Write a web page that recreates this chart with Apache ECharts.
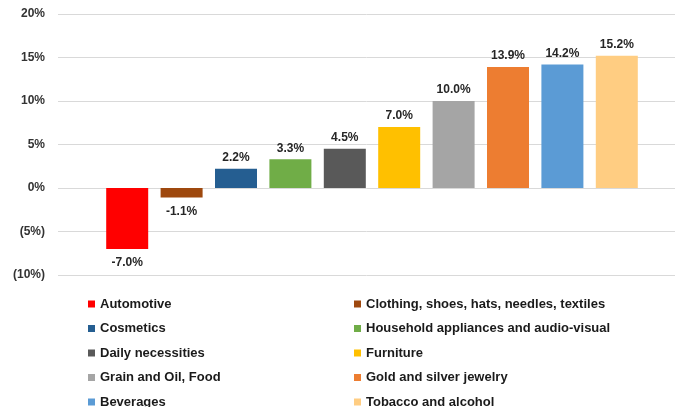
<!DOCTYPE html>
<html>
<head>
<meta charset="utf-8">
<script src="https://cdn.jsdelivr.net/npm/echarts@6/dist/echarts.min.js"></script>
<style>html,body{margin:0;padding:0;background:#fff;}#c{width:675px;height:407px;}</style>
</head>
<body>
<div id="c"></div>
<script>
var categories = ['Automotive','Clothing, shoes, hats, needles, textiles','Cosmetics','Household appliances and audio-visual','Daily necessities','Furniture','Grain and Oil, Food','Gold and silver jewelry','Beverages','Tobacco and alcohol'];
var values = [-7.0, -1.1, 2.2, 3.3, 4.5, 7.0, 10.0, 13.9, 14.2, 15.2];
var colors = ['#FF0000','#9E480E','#255E91','#70AD47','#595959','#FFC000','#A5A5A5','#ED7D31','#5B9BD5','#FFCD82'];
var yTicks = [-10, -5, 0, 5, 10, 15, 20];

function fmtTick(v){ return v < 0 ? '(' + Math.abs(v) + '%)' : v + '%'; }

var series = categories.map(function(name, i){
  var d = categories.map(function(_, j){
    if (j !== i) return null;
    return {value: values[i], label: {position: values[i] < 0 ? 'bottom' : 'top', distance: values[i] < 0 ? 8 : 5}};
  });
  return {
    name: name, type: 'bar', stack: 'all', xAxisIndex: 1, yAxisIndex: 1,
    barWidth: 42, itemStyle: {color: colors[i]},
    label: {show: true, fontFamily: 'Liberation Sans, Arial', fontWeight: 'bold', fontSize: 12, color: '#262626',
      formatter: function(p){ return p.value.toFixed(1) + '%'; }},
    data: d
  };
});
series.push({type: 'bar', xAxisIndex: 0, yAxisIndex: 0, data: [], silent: true});

var legendLeft = [], legendRight = [];
categories.forEach(function(c, i){ (i % 2 === 0 ? legendLeft : legendRight).push(c); });
var legendCommon = {
  orient: 'vertical', itemWidth: 7, itemHeight: 7, itemGap: 10.5, icon: 'rect', top: 297, height: 130, padding: 0,
  textStyle: {fontFamily: 'Liberation Sans, Arial', fontWeight: 'bold', fontSize: 13, color: '#1a1a1a', lineHeight: 14},
  selectedMode: false
};

var chart = echarts.init(document.getElementById('c'));
chart.setOption({
  animation: false,
  grid: [
    {left: 58, right: 0, top: 14, bottom: 132, containLabel: false},
    {left: 100, right: 31, top: 14, bottom: 132, containLabel: false}
  ],
  xAxis: [
    {gridIndex: 0, type: 'category', data: [''], show: false},
    {gridIndex: 1, type: 'category', data: categories, show: false}
  ],
  yAxis: [
    {gridIndex: 0, type: 'value', min: -10, max: 20, interval: 5,
      axisLine: {show: false}, axisTick: {show: false},
      splitLine: {lineStyle: {color: '#d9d9d9', width: 1}},
      axisLabel: {margin: 13, fontFamily: 'Liberation Sans, Arial', fontWeight: 'bold', fontSize: 12, color: '#333',
        formatter: fmtTick}},
    {gridIndex: 1, type: 'value', min: -10, max: 20, interval: 5, show: false, splitLine: {show: false}}
  ],
  legend: [
    Object.assign({left: 88, data: legendLeft}, legendCommon),
    Object.assign({left: 354, data: legendRight}, legendCommon)
  ],
  series: series
});
</script>
</body>
</html>
